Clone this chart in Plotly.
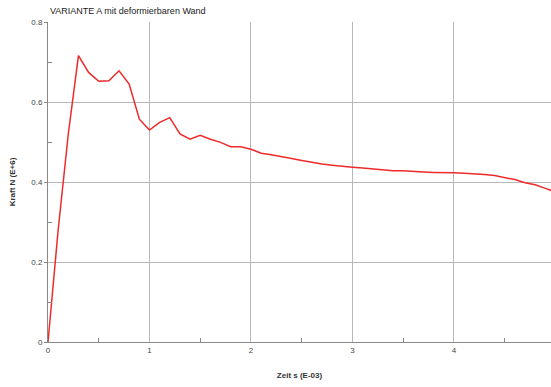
import plotly.graph_objects as go

zeit = [0.0, 0.1, 0.2, 0.3, 0.4, 0.5, 0.6, 0.7, 0.8, 0.9,
        1.0, 1.1, 1.2, 1.3, 1.4, 1.5, 1.6, 1.7, 1.8, 1.9,
        2.0, 2.1, 2.2, 2.3, 2.4, 2.5, 2.6, 2.7, 2.8, 2.9,
        3.0, 3.1, 3.2, 3.3, 3.4, 3.5, 3.6, 3.7, 3.8, 3.9,
        4.0, 4.1, 4.2, 4.3, 4.4, 4.5, 4.6, 4.7, 4.8, 4.9, 5.0]
kraft = [0.0, 0.28, 0.52, 0.716, 0.674, 0.652, 0.653, 0.678, 0.645, 0.557,
         0.53, 0.549, 0.561, 0.52, 0.507, 0.517, 0.507, 0.499, 0.488, 0.488,
         0.482, 0.472, 0.468, 0.464, 0.459, 0.454, 0.449, 0.445, 0.442, 0.439,
         0.437, 0.435, 0.433, 0.431, 0.428, 0.428, 0.426, 0.425, 0.424, 0.424,
         0.423, 0.422, 0.421, 0.419, 0.416, 0.411, 0.406, 0.398, 0.393, 0.384, 0.375]

x_ticks = [0, 1, 2, 3, 4]
y_ticks = [0, 0.2, 0.4, 0.6, 0.8]
y_tick_labels = ["0", "0.2", "0.4", "0.6", "0.8"]

fig = go.Figure()
fig.add_trace(go.Scatter(x=zeit, y=kraft, mode="lines",
                         line=dict(color="#ee2a2a", width=1.5),
                         showlegend=False, hoverinfo="skip"))

font_family = "Liberation Sans, Arial, sans-serif"
fig.update_layout(
    width=551, height=387,
    margin=dict(l=48, r=0, t=22, b=45),
    paper_bgcolor="white", plot_bgcolor="white",
    font=dict(family=font_family, size=8, color="#333"),
    annotations=[
        dict(text="VARIANTE A mit deformierbaren Wand", x=0, y=1.0,
             xref="paper", yref="paper", xanchor="left", yanchor="bottom",
             yshift=4, showarrow=False,
             font=dict(family=font_family, size=9, color="#222")),
    ],
)
fig.update_xaxes(
    range=[0, 4.956], tickvals=x_ticks, ticktext=[str(v) for v in x_ticks],
    showgrid=True, gridcolor="#b8b8b8", gridwidth=1,
    showline=True, linecolor="#888", linewidth=1,
    zeroline=False, ticks="", ticklen=0,
    minor=dict(tickvals=[0.5, 1.5, 2.5, 3.5, 4.5], ticks="inside", ticklen=4,
               tickcolor="#888", showgrid=False),
    title=dict(text="<b>Zeit s (E-03)</b>", standoff=18,
               font=dict(family=font_family, size=8, color="#333")),
    tickfont=dict(size=8, color="#444"),
)
fig.update_yaxes(
    range=[0, 0.8], tickvals=y_ticks, ticktext=y_tick_labels,
    showgrid=True, gridcolor="#b8b8b8", gridwidth=1,
    showline=True, linecolor="#888", linewidth=1,
    zeroline=False, ticks="outside", ticklen=3, tickcolor="#888",
    minor=dict(tickvals=[0.1, 0.3, 0.5, 0.7], ticks="inside", ticklen=4,
               tickcolor="#888", showgrid=False),
    title=dict(text="<b>Kraft N (E+6)</b>", standoff=14,
               font=dict(family=font_family, size=8, color="#333")),
    tickfont=dict(size=8, color="#444"),
)

fig.write_html("out.html",
               config={"displayModeBar": False, "staticPlot": True},
               post_script="document.body.style.margin='0';document.body.style.overflow='hidden';")
